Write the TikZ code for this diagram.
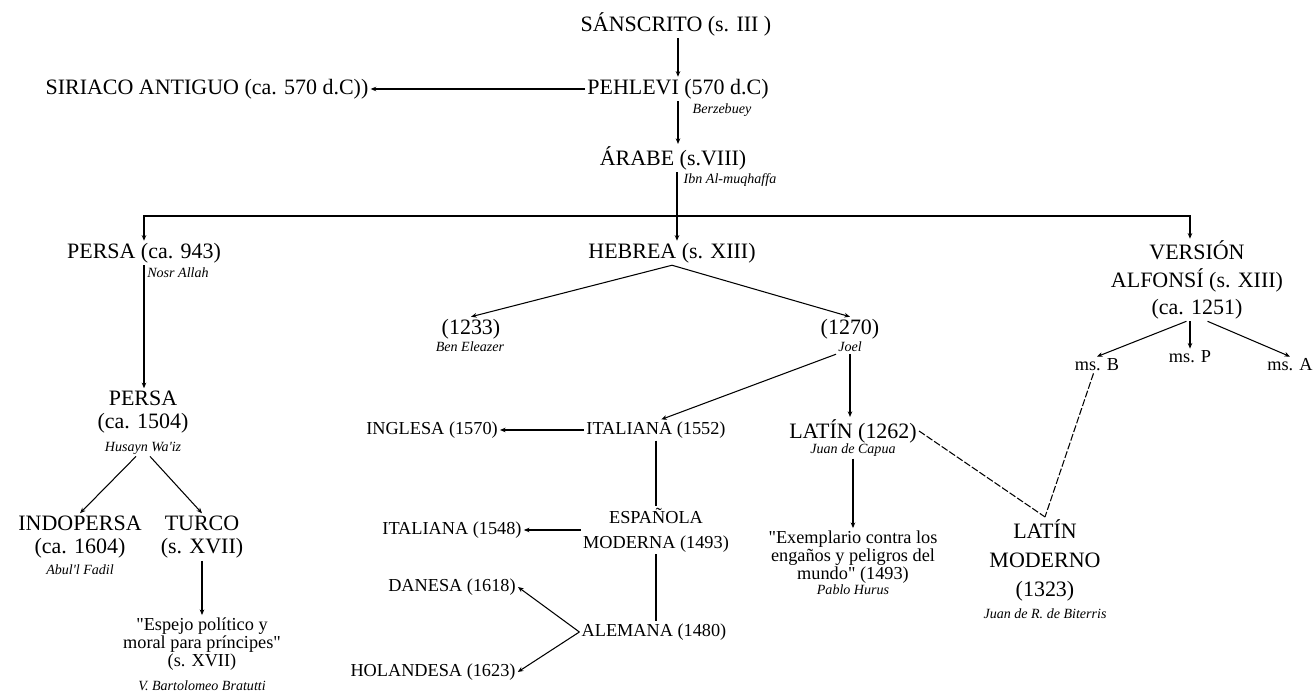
\documentclass[tikz,border=0pt]{standalone}
\usepackage{fontspec}
\setmainfont{Liberation Serif}[Ligatures=TeXOff]
\usetikzlibrary{arrows.meta, positioning, calc}

\begin{document}
\begin{tikzpicture}[line width=0.6pt,
    big/.style={font=\fontsize{12.5}{13.5}\selectfont, inner sep=1pt, align=center},
    mid/.style={font=\fontsize{10.4}{11}\selectfont, inner sep=1pt, align=center},
    autor/.style={font=\fontsize{8}{9}\selectfont\itshape, inner sep=1pt},
    arr/.style={-{Stealth[length=3.2pt,width=2.6pt]}},
    enlace/.style={dash pattern=on 4pt off 1.2pt}]
  \useasboundingbox (0,0) rectangle (26.26,13.88);

  % Sanskrit, Pehlevi, Syriac
  \node[big] (sans) at (13.52,13.40) {SÁNSCRITO (s. III )};
  \node[big] (pehlevi) at (13.56,12.10) {PEHLEVI (570 d.C)};
  \node[autor] (berz) at (14.44,11.68) {Berzebuey};
  \node[big] (siriaco) at (4.14,12.10) {SIRIACO ANTIGUO (ca. 570 d.C))};
  \draw[arr] (sans.south -| pehlevi) -- (pehlevi.north);
  \draw[arr] (pehlevi.west) -- (siriaco.east);

  % Arabic
  \node[big] (arabe) at (13.46,10.72) {ÁRABE (s.VIII)};
  \node[autor] (ibn) at (14.60,10.28) {Ibn Al-muqhaffa};
  \draw[arr] (pehlevi.south) -- (pehlevi.south |- arabe.north);

  % Three branches
  \node[big] (persa) at (2.88,8.82) {PERSA (ca. 943)};
  \node[autor] (nosr) at (3.56,8.42) {Nosr Allah};
  \node[big] (hebrea) at (13.44,8.82) {HEBREA (s. XIII)};
  \node[big, font=\fontsize{12.5}{15.5}\selectfont] (version) at (23.94,8.28) {VERSIÓN\\ALFONSÍ (s. XIII)\\(ca. 1251)};
  \coordinate (cruce) at (13.54,9.56);
  \draw[arr] (arabe.south -| cruce) -- (cruce |- hebrea.north);
  \draw[arr] (cruce) -| (persa.north);
  \draw[arr] (cruce) -| ([xshift=-4pt]version.north);

  % Persian line
  \node[big] (persa2) at (2.86,5.64) {PERSA\\(ca. 1504)};
  \node[autor] (husayn) at (2.86,4.92) {Husayn Wa'iz};
  \node[big] (indo) at (1.60,3.14) {INDOPERSA\\(ca. 1604)};
  \node[autor] (abul) at (1.60,2.48) {Abul'l Fadil};
  \node[big] (turco) at (4.04,3.14) {TURCO\\(s. XVII)};
  \node[mid, font=\fontsize{10.4}{9.2}\selectfont] (espejo) at (4.04,1.00) {"Espejo político y\\moral para príncipes"\\(s. XVII)};
  \node[autor] (bratutti) at (4.04,0.16) {V. Bartolomeo Bratutti};
  \draw[arr] (persa.south) -- (persa.south |- persa2.north);
  \draw[arr] ([xshift=-4pt]husayn.south) -- (indo.north);
  \draw[arr] ([xshift=4pt]husayn.south) -- (turco.north);
  \draw[arr] (turco.south) -- (espejo.north);

  % Hebrew line
  \node[big] (h1233) at (9.42,7.30) {(1233)};
  \node[autor] (eleazer) at (9.40,6.94) {Ben Eleazer};
  \node[big] (h1270) at (17.00,7.30) {(1270)};
  \node[autor] (joel) at (17.00,6.94) {Joel};
  \draw[arr] (hebrea.south) -- (h1233.north);
  \draw[arr] (hebrea.south) -- (h1270.north);

  \node[mid] (ital1) at (13.12,5.28) {ITALIANA (1552)};
  \node[mid] (inglesa) at (8.64,5.28) {INGLESA (1570)};
  \node[big] (latin) at (17.06,5.26) {LATÍN (1262)};
  \node[autor] (capua) at (17.06,4.88) {Juan de Capua};
  \draw[arr] (joel.south west) -- ([xshift=3pt]ital1.north);
  \draw[arr] (joel.south) -- (joel.south |- latin.north);
  \draw[arr] (ital1.west) -- (inglesa.east);

  \node[mid, font=\fontsize{10.4}{14}\selectfont] (espanola) at (13.12,3.28) {ESPAÑOLA\\MODERNA (1493)};
  \node[mid] (ital2) at (9.04,3.28) {ITALIANA (1548)};
  \node[mid] (alemana) at (13.08,1.24) {ALEMANA (1480)};
  \node[mid] (danesa) at (9.04,2.14) {DANESA (1618)};
  \node[mid] (holandesa) at (8.66,0.44) {HOLANDESA (1623)};
  \draw (ital1.south) -- (ital1.south |- espanola.north);
  \draw[arr] (espanola.west) -- (ital2.east);
  \draw (espanola.south -| ital1.south) -- (ital1.south |- alemana.north);
  \draw[arr] (alemana.west) -- (danesa.east);
  \draw[arr] (alemana.west) -- (holandesa.east);

  \node[mid, font=\fontsize{10.4}{8.8}\selectfont] (exemplario) at (17.06,2.74) {"Exemplario contra los\\engaños y peligros del\\mundo" (1493)};
  \node[autor] (hurus) at (17.06,2.08) {Pablo Hurus};
  \draw[arr] (capua.south) -- (exemplario.north);

  % Alfonsine manuscripts
  \node[mid] (msb) at (21.94,6.58) {ms. B};
  \node[mid] (msp) at (23.80,6.74) {ms. P};
  \node[mid] (msa) at (25.80,6.58) {ms. A};
  \draw[arr] ([xshift=-6pt]version.south) -- (msb.north);
  \draw[arr] (msp.north |- version.south) -- (msp.north);
  \draw[arr] ([xshift=6pt]version.south) -- (msa.north);

  % Modern Latin
  \node[big, font=\fontsize{12.5}{16.5}\selectfont] (latmod) at (20.90,2.68) {LATÍN\\MODERNO\\(1323)};
  \node[autor] (biterris) at (20.90,1.60) {Juan de R. de Biterris};
  \draw[enlace] (latin.east) -- (latmod.north);
  \draw[enlace] ([xshift=-2pt]msb.south) -- (latmod.north);
\end{tikzpicture}
\end{document}
